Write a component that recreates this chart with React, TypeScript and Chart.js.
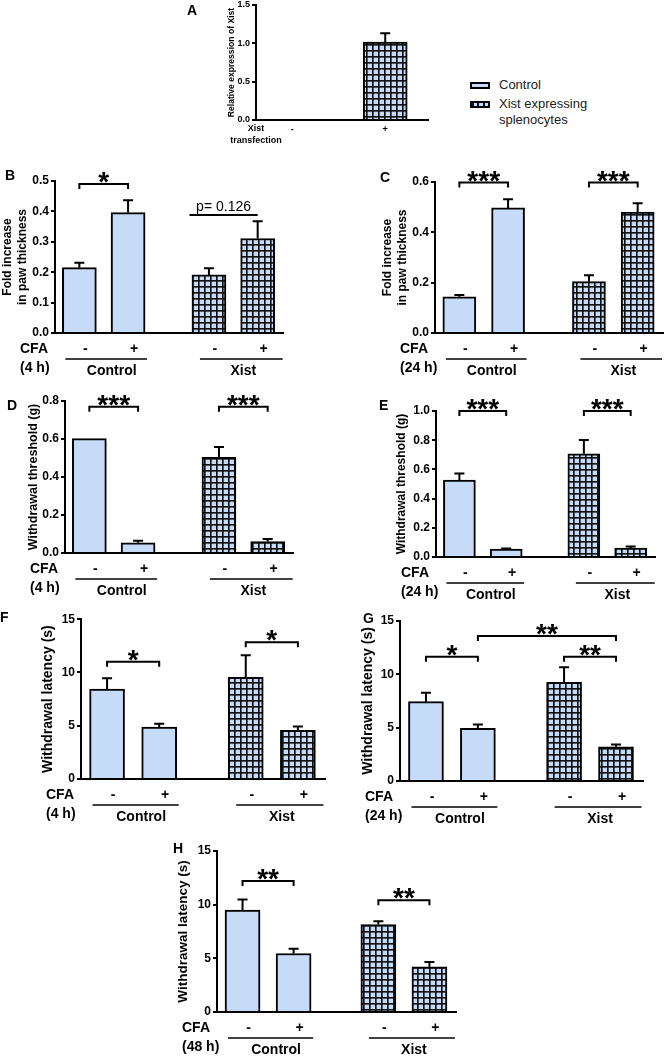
import React, { useEffect, useRef } from "react";
import { Chart, registerables } from "chart.js";
Chart.register(...registerables);

const FONT = "'Liberation Sans', Arial, Helvetica, sans-serif";
const FILL = "#c6dbf7";

// ---------- data ----------
const GROUP_LABELS = ["Control", "Xist"];
const CFA_TICKS = ["-", "+", "-", "+"];
const A_TICKS = ["-", "+"];

const A_VALUES: (number | null)[] = [null, 1.016];
const A_ERRORS: (number | null)[] = [null, 1.13];

const B_VALUES = [0.215, 0.396, 0.191, 0.311];
const B_ERRORS = [0.231, 0.437, 0.213, 0.368];

const C_VALUES = [0.144, 0.497, 0.204, 0.48];
const C_ERRORS = [0.151, 0.531, 0.229, 0.516];

const D_VALUES = [0.602, 0.054, 0.504, 0.06];
const D_ERRORS = [0.602, 0.065, 0.558, 0.074];

const E_VALUES = [0.527, 0.055, 0.707, 0.061];
const E_ERRORS = [0.572, 0.058, 0.802, 0.072];

const F_VALUES = [8.45, 4.87, 9.55, 4.56];
const F_ERRORS = [9.45, 5.18, 11.62, 4.92];

const G_VALUES = [7.44, 4.94, 9.25, 3.2];
const G_ERRORS = [8.27, 5.3, 10.66, 3.43];

const H_VALUES = [9.5, 5.45, 8.15, 4.22];
const H_ERRORS = [10.47, 5.9, 8.45, 4.66];

// category slots (Control -, Control +, Xist -, Xist +)
const SLOTS = [0, 1, 2.66, 3.66];
const A_SLOTS = [0, 1];
const HATCH = [false, false, true, true];

type Bracket = { a: number; b: number; y: number; text: string; stars: boolean; legs: boolean; da?: number };

type Panel = {
  key: string;
  box: [number, number, number, number];
  axisX: number; yTop: number; yBottom: number; xEnd: number;
  yMax: number; yStep: number; decimals: number; tickSize: number;
  title: string | string[]; titleSize: number; titleX: number;
  xMin: number; xMax: number; slots: number[];
  values: (number | null)[]; errors: (number | null)[]; hatched: boolean[];
  barThickness: number;
  tickLabels: string[]; tickLabelSize: number; tickDx: number; tickDy: number;
  brackets: Bracket[];
  time: string | null;
  aLabels?: boolean;
};

const star = (a: number, b: number, y: number, text: string): Bracket => ({ a, b, y, text, stars: true, legs: true });

const PANELS: Panel[] = [
  {
    key: "A", box: [150, -10, 290, 165], axisX: 256, yTop: 5, yBottom: 120, xEnd: 428,
    yMax: 1.5, yStep: 0.5, decimals: 1, tickSize: 9,
    title: "Relative expression of Xist", titleSize: 8.6, titleX: 232,
    xMin: -0.39, xMax: 1.46, slots: A_SLOTS, values: A_VALUES, errors: A_ERRORS, hatched: [true, true],
    barThickness: 44, tickLabels: A_TICKS, tickLabelSize: 9, tickDx: 0, tickDy: 10,
    brackets: [], time: null, aLabels: true,
  },
  {
    key: "B", box: [0, 160, 300, 220], axisX: 55, yTop: 181, yBottom: 333, xEnd: 283,
    yMax: 0.5, yStep: 0.1, decimals: 1, tickSize: 12,
    title: ["Fold increase", "in paw thickness"], titleSize: 12, titleX: 8,
    xMin: -0.5, xMax: 4.18, slots: SLOTS, values: B_VALUES, errors: B_ERRORS, hatched: HATCH,
    barThickness: 34, tickLabels: CFA_TICKS, tickLabelSize: 14, tickDx: 6, tickDy: 16,
    brackets: [star(0, 1, 0.49, "*"), { a: 2, b: 3, y: 0.388, text: "p= 0.126", stars: false, legs: false, da: -0.4 }],
    time: "(4 h)",
  },
  {
    key: "C", box: [378, 160, 286, 220], axisX: 435, yTop: 182, yBottom: 333, xEnd: 663,
    yMax: 0.6, yStep: 0.2, decimals: 1, tickSize: 12,
    title: ["Fold increase", "in paw thickness"], titleSize: 12, titleX: 388,
    xMin: -0.5, xMax: 4.18, slots: SLOTS, values: C_VALUES, errors: C_ERRORS, hatched: HATCH,
    barThickness: 33, tickLabels: CFA_TICKS, tickLabelSize: 14, tickDx: 6, tickDy: 16,
    brackets: [star(0, 1, 0.598, "***"), star(2, 3, 0.598, "***")],
    time: "(24 h)",
  },
  {
    key: "D", box: [0, 380, 300, 225], axisX: 65, yTop: 401, yBottom: 553, xEnd: 293,
    yMax: 0.8, yStep: 0.2, decimals: 1, tickSize: 12,
    title: "Withdrawal threshold (g)", titleSize: 12.5, titleX: 34,
    xMin: -0.5, xMax: 4.18, slots: SLOTS, values: D_VALUES, errors: D_ERRORS, hatched: HATCH,
    barThickness: 34, tickLabels: CFA_TICKS, tickLabelSize: 14, tickDx: 6, tickDy: 16,
    brackets: [star(0, 1, 0.77, "***"), star(2, 3, 0.77, "***")],
    time: "(4 h)",
  },
  {
    key: "E", box: [375, 385, 289, 220], axisX: 436, yTop: 411, yBottom: 557, xEnd: 655,
    yMax: 1.0, yStep: 0.2, decimals: 1, tickSize: 12,
    title: "Withdrawal threshold (g)", titleSize: 12, titleX: 402,
    xMin: -0.5, xMax: 4.18, slots: SLOTS, values: E_VALUES, errors: E_ERRORS, hatched: HATCH,
    barThickness: 32, tickLabels: CFA_TICKS, tickLabelSize: 14, tickDx: 6, tickDy: 16,
    brackets: [star(0, 1, 1.0, "***"), star(2, 3, 1.0, "***")],
    time: "(24 h)",
  },
  {
    key: "F", box: [0, 610, 335, 215], axisX: 81, yTop: 619, yBottom: 779, xEnd: 325,
    yMax: 15, yStep: 5, decimals: 0, tickSize: 12,
    title: "Withdrawal latency (s)", titleSize: 14, titleX: 48,
    xMin: -0.5, xMax: 4.18, slots: SLOTS, values: F_VALUES, errors: F_ERRORS, hatched: HATCH,
    barThickness: 35, tickLabels: CFA_TICKS, tickLabelSize: 14, tickDx: 6, tickDy: 16,
    brackets: [star(0, 1, 11.0, "*"), star(2, 3, 12.84, "*")],
    time: "(4 h)",
  },
  {
    key: "G", box: [355, 610, 309, 215], axisX: 400, yTop: 621, yBottom: 781, xEnd: 643,
    yMax: 15, yStep: 5, decimals: 0, tickSize: 12,
    title: "Withdrawal latency (s)", titleSize: 14, titleX: 368,
    xMin: -0.5, xMax: 4.18, slots: SLOTS, values: G_VALUES, errors: G_ERRORS, hatched: HATCH,
    barThickness: 35, tickLabels: CFA_TICKS, tickLabelSize: 14, tickDx: 6, tickDy: 16,
    brackets: [star(0, 1, 11.65, "*"), star(1, 3, 13.6, "**"), star(2, 3, 11.65, "**")],
    time: "(24 h)",
  },
  {
    key: "H", box: [165, 835, 300, 227], axisX: 217, yTop: 851, yBottom: 1012, xEnd: 456,
    yMax: 15, yStep: 5, decimals: 0, tickSize: 12,
    title: "Withdrawal latency (s)", titleSize: 13.5, titleX: 183,
    xMin: -0.5, xMax: 4.18, slots: SLOTS, values: H_VALUES, errors: H_ERRORS, hatched: HATCH,
    barThickness: 35, tickLabels: CFA_TICKS, tickLabelSize: 14, tickDx: 6, tickDy: 16,
    brackets: [star(0, 1, 12.2, "**"), star(2, 3, 10.4, "**")],
    time: "(48 h)",
  },
];

const LETTERS: [string, number, number][] = [
  ["A", 187, 3], ["B", 5, 168], ["C", 380, 170], ["D", 7, 398],
  ["E", 379, 398], ["F", 0, 610], ["G", 363, 611], ["H", 173, 841],
];

function makePattern(): CanvasPattern | string {
  const c = document.createElement("canvas");
  c.width = 6; c.height = 6;
  const g = c.getContext("2d");
  if (!g) return FILL;
  g.fillStyle = FILL; g.fillRect(0, 0, 6, 6);
  g.fillStyle = "#111";
  g.fillRect(0, 0, 6, 1); g.fillRect(0, 0, 1, 6);
  g.fillStyle = "rgba(17,17,17,0.65)";
  g.fillRect(0, 1, 6, 1); g.fillRect(1, 0, 1, 6);
  const pat = g.createPattern(c, "repeat");
  return pat || FILL;
}

function annot(p: Panel) {
  return {
    id: "annot" + p.key,
    afterDatasetsDraw(chart: any) {
      const ctx: CanvasRenderingContext2D = chart.ctx;
      const xs = chart.scales.x;
      const ys = chart.scales.y;
      const meta = chart.getDatasetMeta(0);
      const yb = chart.chartArea.bottom;
      const half = p.barThickness / 2;
      ctx.save();
      ctx.strokeStyle = "#000";
      ctx.fillStyle = "#000";
      ctx.lineWidth = 2;
      ctx.lineJoin = "miter";
      // error bars (upper only)
      p.values.forEach((v, i) => {
        const e = p.errors[i];
        if (v == null || e == null || e <= v) return;
        const px = meta.data[i].x;
        const y0 = ys.getPixelForValue(v);
        const y1 = ys.getPixelForValue(e);
        ctx.beginPath();
        ctx.moveTo(px, y0); ctx.lineTo(px, y1);
        ctx.moveTo(px - 5, y1); ctx.lineTo(px + 5, y1);
        ctx.stroke();
      });
      // significance brackets
      p.brackets.forEach((b) => {
        const xa = xs.getPixelForValue(p.slots[b.a] + (b.da || 0));
        const xb = xs.getPixelForValue(p.slots[b.b]);
        const yy = ys.getPixelForValue(b.y);
        ctx.lineWidth = 2;
        ctx.beginPath();
        if (b.legs) {
          ctx.moveTo(xa, yy + 5); ctx.lineTo(xa, yy); ctx.lineTo(xb, yy); ctx.lineTo(xb, yy + 5);
        } else {
          ctx.moveTo(xa, yy); ctx.lineTo(xb, yy);
        }
        ctx.stroke();
        const cx = (xa + xb) / 2;
        ctx.textAlign = "center";
        if (b.stars) {
          ctx.font = `bold 28px ${FONT}`;
          ctx.textBaseline = "alphabetic";
          ctx.fillText(b.text, cx, yy - 9 + 16);
        } else {
          ctx.font = `14px ${FONT}`;
          ctx.textBaseline = "middle";
          ctx.fillText(b.text, cx, yy - 8);
        }
      });
      // x tick labels (- / +)
      ctx.textAlign = "center";
      ctx.textBaseline = "middle";
      ctx.font = `bold ${p.tickLabelSize}px ${FONT}`;
      p.tickLabels.forEach((t, i) => {
        ctx.fillText(t, xs.getPixelForValue(p.slots[i]) + p.tickDx, yb + p.tickDy);
      });
      if (p.aLabels) {
        ctx.font = `bold 9px ${FONT}`;
        const ax = chart.chartArea.left;
        ctx.fillText("Xist", ax, yb + 9);
        ctx.fillText("transfection", ax, yb + 21);
      } else {
        // group underlines and labels
        GROUP_LABELS.forEach((g, gi) => {
          const c1 = xs.getPixelForValue(p.slots[gi * 2]);
          const c2 = xs.getPixelForValue(p.slots[gi * 2 + 1]);
          const l0 = gi === 0 ? 3 : 8;
          const r0 = gi === 0 ? 2 : 8;
          ctx.lineWidth = 1.6;
          ctx.beginPath();
          ctx.moveTo(c1 - half + l0, yb + 26);
          ctx.lineTo(c2 + half + r0, yb + 26);
          ctx.stroke();
          ctx.font = `bold 14px ${FONT}`;
          ctx.textAlign = "center";
          ctx.fillText(g, (c1 + c2) / 2 + (gi === 0 ? 8 : 10), yb + 38);
        });
        ctx.textAlign = "left";
        ctx.font = `bold 14px ${FONT}`;
        const lx = chart.chartArea.left - 35;
        ctx.fillText("CFA", lx, yb + 16);
        if (p.time) ctx.fillText(p.time, lx, yb + 35);
      }
      ctx.restore();
    },
  };
}

function PanelChart({ p }: { p: Panel }) {
  const ref = useRef<HTMLCanvasElement>(null);
  useEffect(() => {
    if (!ref.current) return;
    const pattern = makePattern();
    const [bl, bt, bw, bh] = p.box;
    const lh = p.titleSize * 1.2;
    const chart = new Chart(ref.current, {
      type: "bar",
      data: {
        datasets: [
          {
            data: p.slots.map((s, i) => ({ x: s, y: p.values[i] })) as any,
            backgroundColor: p.hatched.map((h) => (h ? pattern : FILL)) as any,
            borderColor: "#000",
            borderWidth: 2,
            borderSkipped: "bottom",
            barThickness: p.barThickness,
          },
        ],
      },
      options: {
        animation: false,
        responsive: false,
        devicePixelRatio: 1,
        events: [],
        layout: {
          padding: { left: 0, top: p.yTop - bt, right: bl + bw - p.xEnd, bottom: bt + bh - p.yBottom },
        },
        plugins: { legend: { display: false }, tooltip: { enabled: false } },
        scales: {
          x: {
            type: "linear",
            min: p.xMin,
            max: p.xMax,
            offset: false,
            grid: { display: false },
            ticks: { display: false },
            border: { display: true, color: "#000", width: 2 },
            afterFit: (s: any) => { s.height = 0; },
          } as any,
          y: {
            type: "linear",
            min: 0,
            max: p.yMax,
            ticks: {
              stepSize: p.yStep,
              autoSkip: false,
              padding: 2,
              color: "#000",
              font: { family: FONT, size: p.tickSize, weight: "bold" },
              callback: (v: any) => Number(v).toFixed(p.decimals),
            },
            grid: { display: true, drawOnChartArea: false, drawTicks: true, tickLength: 4, lineWidth: 2, color: "#000" },
            border: { display: true, color: "#000", width: 2 },
            title: {
              display: true,
              text: p.title,
              color: "#000",
              font: { family: FONT, size: p.titleSize, weight: "bold", lineHeight: 1.2 },
              padding: { top: p.titleX - bl - lh / 2, bottom: 0 },
            },
            afterFit: (s: any) => { s.width = p.axisX - bl; },
          } as any,
        },
      },
      plugins: [annot(p)],
    });
    return () => chart.destroy();
  }, []);
  return (
    <canvas
      ref={ref}
      width={p.box[2]}
      height={p.box[3]}
      style={{ position: "absolute", left: p.box[0], top: p.box[1], width: p.box[2], height: p.box[3] }}
    />
  );
}

export default function App() {
  return (
    <div
      style={{
        position: "absolute", left: 0, top: 0, width: 664, height: 1062,
        background: "#fff", overflow: "hidden", fontFamily: FONT,
      }}
    >
      {PANELS.map((p) => (
        <PanelChart key={p.key} p={p} />
      ))}
      {LETTERS.map(([t, x, y]) => (
        <div key={t} style={{ position: "absolute", left: x, top: y, fontSize: 14, lineHeight: "14px", fontWeight: "bold", color: "#000" }}>
          {t}
        </div>
      ))}
      {/* legend */}
      <div style={{ position: "absolute", left: 470, top: 82, width: 16, height: 3, border: "2px solid #000", background: FILL }} />
      <div
        style={{
          position: "absolute", left: 470, top: 101, width: 16, height: 3, border: "2px solid #000",
          background: `repeating-linear-gradient(90deg, #111 0px, #111 2px, ${FILL} 2px, ${FILL} 5.33px)`,
        }}
      />
      <div style={{ position: "absolute", left: 499, top: 77, fontSize: 13, lineHeight: "16px", color: "#222" }}>Control</div>
      <div style={{ position: "absolute", left: 499, top: 96, fontSize: 13, lineHeight: "16px", color: "#222" }}>
        Xist expressing
        <br />
        splenocytes
      </div>
    </div>
  );
}
